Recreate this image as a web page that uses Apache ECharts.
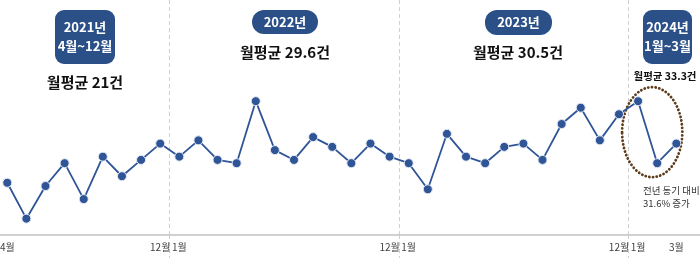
<!DOCTYPE html>
<html><head><meta charset="utf-8">
<script src="https://cdn.jsdelivr.net/npm/echarts@6/dist/echarts.min.js"></script>
<style>html,body{margin:0;padding:0;background:#fff}#c{width:700px;height:258px}</style>
</head><body><div id="c"></div>
<script>
var months = ['4월','5월','6월','7월','8월','9월','10월','11월','12월',
  '1월','2월','3월','4월','5월','6월','7월','8월','9월','10월','11월','12월',
  '1월','2월','3월','4월','5월','6월','7월','8월','9월','10월','11월','12월',
  '1월','2월','3월'];
var counts = [19,8,18,25,14,27,21,26,31,
  27,32,26,25,44,29,26,33,30,25,31,27,
  25,17,34,27,25,30,31,26,37,42,32,40,
  44,25,31];
var shownLabels = [0,8,9,20,21,32,33,35];
var yearStarts = [9,21,33];

var FONT = '"Noto Sans CJK KR", "Noto Sans", sans-serif';
var BLUE = '#2b5088';
var chart = echarts.init(document.getElementById('c'));
chart.setOption({
  animation: false,
  grid: {left: -2.3, right: -5, top: 0, bottom: 23, containLabel: false, outerBoundsMode: 'none'},
  xAxis: {
    type: 'category', data: months, boundaryGap: true, max: 36,
    axisLine: {lineStyle: {color: '#c0c0c0', width: 1.5}},
    axisTick: {show: true, length: 23, interval: function(i){ return yearStarts.indexOf(i) >= 0; },
      lineStyle: {color: '#d0d0d0', type: [4,3], width: 1}},
    splitLine: {show: true, interval: function(i){ return yearStarts.indexOf(i) >= 0; },
      lineStyle: {color: '#d0d0d0', type: [4,3], width: 1}},
    axisLabel: {interval: function(i){ return shownLabels.indexOf(i) >= 0; },
      color: '#404040', fontSize: 10, fontFamily: FONT, margin: 7,
      formatter: function(v){ return v == null ? '' : v; }}
  },
  yAxis: {type: 'value', min: 3, max: 75, show: false, splitLine: {show: false}},
  series: [{
    type: 'line', data: counts, symbol: 'circle', symbolSize: 9,
    lineStyle: {color: '#2f5597', width: 1.8},
    itemStyle: {color: '#2f5597', borderColor: '#e3e9f3', borderWidth: 1}
  }]
});

var p33 = chart.convertToPixel({seriesIndex: 0}, [33, counts[33]]);
var p34 = chart.convertToPixel({seriesIndex: 0}, [34, counts[34]]);
var p35 = chart.convertToPixel({seriesIndex: 0}, [35, counts[35]]);
var ecx = (p33[0] + p35[0]) / 2 - 5, ecy = (p33[1] + p34[1]) / 2;
var erx = (p35[0] - p33[0]) / 2 + 11, ery = (p34[1] - p33[1]) / 2 + 14;

function box(x, y, w, h, r, lines, cy) {
  var els = [{type: 'rect', shape: {x: x, y: y, width: w, height: h, r: r}, style: {fill: BLUE}}];
  lines.forEach(function(t, i){
    els.push({type: 'text', x: x + w/2, y: cy[i], style: {text: t, fill: '#fff', font: 'bold 13px ' + FONT, align: 'center', verticalAlign: 'middle'}});
  });
  return els;
}
function label(x, y, t, size, weight, color) {
  return {type: 'text', x: x, y: y, style: {text: t, fill: color || '#111', font: (weight||'bold') + ' ' + size + 'px ' + FONT, align: 'center', verticalAlign: 'middle'}};
}
var g = [];
g = g.concat(box(55, 10, 60, 54, 9, ['2021년', '4월~12월'], [27, 46]));
g.push(label(85, 82, '월평균 21건', 15));
g = g.concat(box(252, 10, 66, 24, 12, ['2022년'], [22]));
g.push(label(285, 52, '월평균 29.6건', 15));
g = g.concat(box(485, 10, 67, 25, 12, ['2023년'], [22.5]));
g.push(label(518, 52, '월평균 30.5건', 15));
g = g.concat(box(643, 10, 49, 54, 9, ['2024년', '1월~3월'], [27, 46]));
g.push(label(665, 76, '월평균 33.3건', 10.5));
g.push({type: 'ellipse', shape: {cx: ecx, cy: ecy, rx: erx, ry: ery},
  style: {fill: 'none', stroke: '#5e3c1c', lineWidth: 2.8, lineDash: [0.1, 3.6], lineCap: 'round'}});
g.push({type: 'text', x: 643, y: 190, style: {text: '전년 동기 대비', fill: '#333', font: '9.5px ' + FONT, align: 'left', verticalAlign: 'middle'}});
g.push({type: 'text', x: 643, y: 203, style: {text: '31.6% 증가', fill: '#333', font: '9.5px ' + FONT, align: 'left', verticalAlign: 'middle'}});
chart.setOption({graphic: {elements: g}});
</script></body></html>
